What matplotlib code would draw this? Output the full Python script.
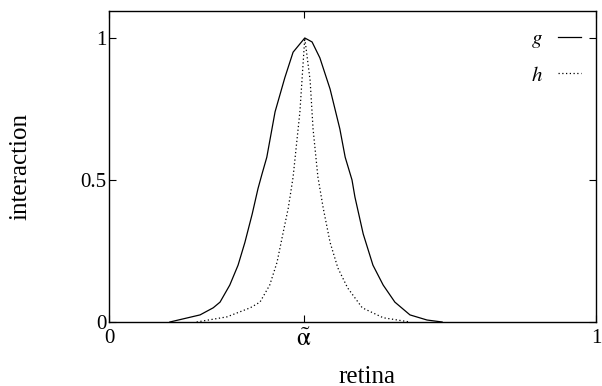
import numpy as np
import matplotlib
matplotlib.use('Agg')
import matplotlib.pyplot as plt
import matplotlib as mpl

# g : broad bump, h : narrow peaked bump
g_x = [0.125, 0.187, 0.214, 0.228, 0.248, 0.265, 0.279, 0.294, 0.306, 0.314,
       0.324, 0.341, 0.361, 0.378, 0.402, 0.417, 0.433, 0.454, 0.474, 0.485,
       0.499, 0.505, 0.522, 0.542, 0.563, 0.587, 0.618, 0.653, 0.684]
g_y = [0.0, 0.025, 0.05, 0.07, 0.13, 0.20, 0.28, 0.38, 0.47, 0.52,
       0.58, 0.74, 0.86, 0.95, 1.0, 0.986, 0.93, 0.82, 0.68, 0.58,
       0.50, 0.44, 0.31, 0.20, 0.13, 0.07, 0.025, 0.007, 0.0]

h_x = [0.18, 0.242, 0.29, 0.31, 0.33, 0.345, 0.357, 0.368, 0.378, 0.392,
       0.402, 0.413, 0.419, 0.429, 0.44, 0.454, 0.47, 0.49, 0.52, 0.563, 0.618]
h_y = [0.0, 0.018, 0.05, 0.07, 0.13, 0.21, 0.31, 0.40, 0.51, 0.74,
       1.0, 0.85, 0.68, 0.51, 0.40, 0.28, 0.19, 0.12, 0.05, 0.015, 0.0]

xticks = [0, 0.4, 1]
xticklabels = ['0', r'$\tilde{\mathrm{\alpha}}$', '1']
yticks = [0, 0.5, 1]
yticklabels = ['0', '0.5', '1']

mpl.rcParams['font.family'] = 'Liberation Serif'
mpl.rcParams['mathtext.fontset'] = 'stix'
mpl.rcParams['axes.linewidth'] = 1.0

fig = plt.figure(figsize=(6.02, 3.86), dpi=100)
ax = fig.add_axes([109/602, 64/386, 487/602, 311/386])

ax.plot(g_x, g_y, 'k-', lw=0.9, label='$g$')
ax.plot(h_x, h_y, color='k', lw=0.9, linestyle=(0, (1, 2)), label='$h$')

ax.set_xlim(0, 1)
ax.set_ylim(0, 1.095)
ax.set_xticks(xticks)
ax.set_xticklabels(xticklabels)
ax.set_yticks(yticks)
ax.set_yticklabels(yticklabels)
ax.tick_params(direction='in', length=5, width=0.8, top=True, right=True,
               labelsize=15)
ax.tick_params(axis='x', pad=5)
ax.tick_params(axis='y', pad=2)
ax.xaxis.get_majorticklabels()[1].set_fontsize(18)

ax.set_xlabel('retina', fontsize=18)
ax.set_ylabel('interaction', fontsize=18)
ax.xaxis.set_label_coords(0.53, -0.14)
ax.yaxis.set_label_coords(-0.16, 0.5)

ax.legend(loc='upper right', bbox_to_anchor=(1.008, 1.0), markerfirst=False,
          frameon=False, fontsize=15, handlelength=1.1, labelspacing=0.75,
          borderaxespad=0.6, borderpad=0.3, handletextpad=0.75)

plt.savefig('out.png', dpi=100)
